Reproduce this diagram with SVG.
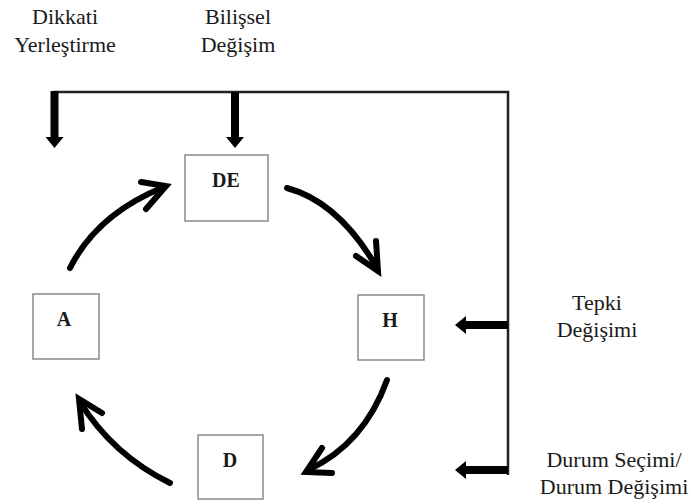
<svg xmlns="http://www.w3.org/2000/svg" width="691" height="504" viewBox="0 0 691 504">
<style>
.lbl{font-family:"Liberation Serif","Times New Roman",serif;font-size:22px;fill:#1a1a1a;text-anchor:middle}
.box{fill:#fff;stroke:#8a8a8a;stroke-width:1.5}
.bt{font-family:"Liberation Serif","Times New Roman",serif;font-size:20px;font-weight:bold;fill:#1a1a1a;text-anchor:middle}
.curve{fill:none;stroke:#000;stroke-width:6;stroke-linecap:round}
.head{fill:none;stroke:#000;stroke-width:6;stroke-linecap:round;stroke-linejoin:miter}
.line{fill:none;stroke:#222;stroke-width:2.5}
</style>
<rect width="691" height="504" fill="#fff"/>
<g id="labels">
<text class="lbl" x="65" y="24">Dikkati</text>
<text class="lbl" x="65" y="52">Yerleştirme</text>
<text class="lbl" x="238" y="24">Bilişsel</text>
<text class="lbl" x="238" y="52">Değişim</text>
<text class="lbl" x="597" y="310">Tepki</text>
<text class="lbl" x="597" y="337">Değişimi</text>
<text class="lbl" x="614" y="467">Durum Seçimi/</text>
<text class="lbl" x="614" y="494">Durum Değişimi</text>
</g>
<g id="node-DE"><rect class="box" x="185" y="155" width="83" height="66"/><text class="bt" x="226" y="187">DE</text></g>
<g id="node-A"><rect class="box" x="33" y="294" width="66" height="65"/><text class="bt" x="64" y="326">A</text></g>
<g id="node-H"><rect class="box" x="358" y="295" width="66" height="65"/><text class="bt" x="390" y="327">H</text></g>
<g id="node-D"><rect class="box" x="198" y="435" width="65" height="64"/><text class="bt" x="230" y="467">D</text></g>
<g id="connectors">
<path class="line" d="M54,92 H508 V475"/>
<path d="M50.5,91 H58.5 V137 H63.5 L54.5,148 L45.5,137 H50.5 Z" fill="#000"/>
<path d="M231,92 H239 V137 H244 L235,148 L226,137 H231 Z" fill="#000"/>
<path d="M508,321 H466 V316 L455,325 L466,334 V329 H508 Z" fill="#000"/>
<path d="M508,466 H466 V461 L455,470 L466,479 V474 H508 Z" fill="#000"/>
<path class="curve" d="M70,268 Q97,214 164,187"/>
<path class="head" d="M141,182 L166,186 L146,209"/>
<path class="curve" d="M287,188 Q339,202 377,268"/>
<path class="head" d="M376,241 L378,271 L356,256"/>
<path class="curve" d="M387,380 Q364,444 308,470"/>
<path class="head" d="M322,448 L306,472 L332,473"/>
<path class="curve" d="M170,483 Q113,455 80,402"/>
<path class="head" d="M82,429 L79,399 L102,413"/>
</g>
</svg>
